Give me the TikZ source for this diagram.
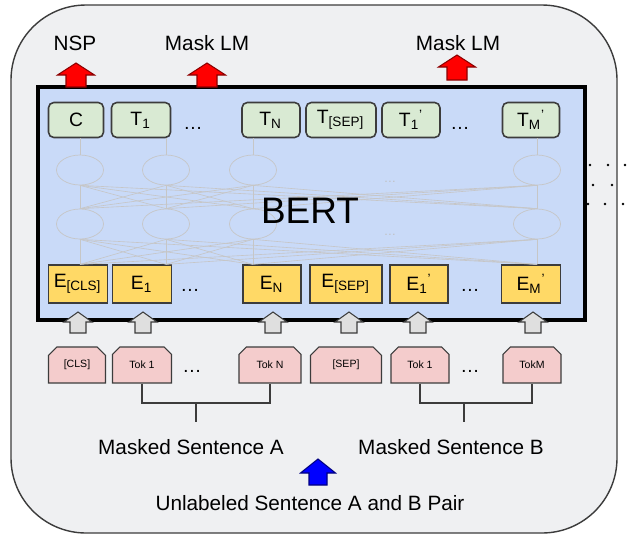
\documentclass[tikz,border=0pt]{standalone}
\usepackage{amsmath}
\usepackage{fontspec}
\setmainfont{Liberation Sans}
\usetikzlibrary{shapes, shapes.misc, positioning}
\tikzset{>=stealth}
\definecolor{outbg}{RGB}{239,240,242}
\definecolor{bertbg}{RGB}{201,218,248}
\definecolor{tgreen}{RGB}{217,234,211}
\definecolor{eyellow}{RGB}{255,217,102}
\definecolor{tpink}{RGB}{244,204,204}
\definecolor{dgray}{RGB}{60,60,60}
\newcommand{\lab}[3]{$\text{#1}_{\text{#2}}{}^{\text{#3}}$}
\tikzset{
	tbox/.style={draw=dgray, fill=tgreen, line width=0.9pt, rounded corners=3pt, minimum height=0.7cm, inner sep=0pt, font=\fontsize{11}{12}\selectfont},
	ebox/.style={draw=dgray, fill=eyellow, line width=0.7pt, minimum height=0.76cm, inner sep=0pt, font=\fontsize{11}{12}\selectfont},
	tokbox/.style={chamfered rectangle, chamfered rectangle corners={north west, north east}, chamfered rectangle xsep=3pt, chamfered rectangle ysep=2pt, draw=dgray, fill=tpink, line width=0.6pt, minimum height=0.72cm, inner sep=0pt, font=\fontsize{6}{7}\selectfont},
	neuron/.style={ellipse, draw=gray!45, line width=0.4pt, minimum width=0.94cm, minimum height=0.6cm, inner sep=0pt},
	faint/.style={draw=gray!45, line width=0.35pt},
	headtxt/.style={font=\fontsize{11.8}{14}\selectfont},
	pics/uparrow/.style n args={4}{code={
		\path [pic actions, line width=0.6pt] ({-#3/2},0) -- ({-#3/2},{#4-#1}) -- ({-#2/2},{#4-#1}) -- (0,-#1)
			-- ({#2/2},{#4-#1}) -- ({#3/2},{#4-#1}) -- ({#3/2},0) -- cycle;
	}},
}

\begin{document}
\begin{tikzpicture}[x=0.02cm, y=-0.02cm]
	\fill (0,0) rectangle (628,542) [white];
	\useasboundingbox (0,0) rectangle (628,542);
	\draw [fill=outbg, draw=dgray, line width=0.8pt, rounded corners=1.5cm] (11,5) rectangle (617,533);
	\foreach \x/\y in {590/165,608/165,625/165,593/185,612/185,588/204,605/204,623/204}
		\fill (\x,\y) circle[radius=0.8pt];
	\draw (38,87) rectangle (585,320) [fill=bertbg, line width=2pt];

	\node [tbox, minimum width=1.1cm] (tc) at (76,120) {C};
	\node [tbox, minimum width=1.18cm] (tt1) at (141,120) {\lab{T}{1}{}};
	\node [tbox, minimum width=1.16cm] (ttn) at (271,120) {\lab{T}{N}{}};
	\node [tbox, minimum width=1.4cm] (ttsep) at (341,120) {\lab{T}{[SEP]}{}};
	\node [tbox, minimum width=1.16cm] (tt1b) at (411,120) {\lab{T}{1}{'}};
	\node [tbox, minimum width=1.14cm] (ttmb) at (531,120) {\lab{T}{M}{'}};

	\node [ebox, minimum width=1.18cm] (ecls) at (78,284) {\lab{E}{[CLS]}{}};
	\node [ebox, minimum width=1.18cm] (ee1) at (142,284) {\lab{E}{1}{}};
	\node [ebox, minimum width=1.16cm] (een) at (272,284) {\lab{E}{N}{}};
	\node [ebox, minimum width=1.44cm] (esep) at (346,284) {\lab{E}{[SEP]}{}};
	\node [ebox, minimum width=1.16cm] (ee1b) at (419,284) {\lab{E}{1}{'}};
	\node [ebox, minimum width=1.18cm] (eemb) at (531,284) {\lab{E}{M}{'}};

	\node [tokbox, minimum width=1.14cm] (kcls) at (77,365) {[CLS]};
	\node [tokbox, minimum width=1.18cm] (ka1) at (142,365) {Tok 1};
	\node [tokbox, minimum width=1.24cm] (kan) at (270,365) {Tok N};
	\node [tokbox, minimum width=1.42cm] (ksep) at (346,365) {[SEP]};
	\node [tokbox, minimum width=1.16cm] (kb1) at (420,365) {Tok 1};
	\node [tokbox, minimum width=1.16cm] (kbm) at (532,365) {TokM};

	\foreach \x/\y in {193/128,460/128,190/290,470/290,192/371,470/371}
		\node [font=\fontsize{11}{12}\selectfont] at (\x,\y) {\dots};
	\node [text=gray!50, font=\scriptsize] at (390,182) {\dots};
	\node [text=gray!50, font=\scriptsize] at (390,235) {\dots};

	\foreach \i/\x in {1/80,2/166,3/253,4/537} {
		\node [neuron] (u\i) at (\x,170) {};
		\node [neuron] (l\i) at (\x,224) {};
		\draw [faint] (u\i.north) -- (u\i.north |- tc.south);
		\draw [faint] (l\i.south) -- (l\i.south |- ecls.north);
	}
	\foreach \i in {1,...,4}
		\foreach \j in {1,...,4} {
			\draw [faint] (l\i.north) -- (u\j.south);
			\draw [faint] (l\i.south |- ecls.north) -- (l\j.south);
		}
	\node [font=\fontsize{21}{24}\selectfont] (bert) at (310,211) {BERT};

	\foreach \x [count=\i] in {78,143,273,349,418,533}
		\pic (ga\i) [fill=gray!25, draw=dgray] at (\x,333) {uparrow={21}{28}{16}{10}};
	\pic (ra1) [fill=red, draw=red!55!black] at (76,87) {uparrow={24}{37}{20}{12}};
	\pic (ra2) [fill=red, draw=red!55!black] at (207,87) {uparrow={24}{37}{20}{12}};
	\pic (ra3) [fill=red, draw=red!55!black] at (457,80) {uparrow={25}{37}{20}{12}};
	\pic (ba) [fill=blue, draw=blue!50!black] at (318,485) {uparrow={26}{35}{18}{14}};

	\node [headtxt] (nsp) at (75,43) {NSP};
	\node [headtxt] (mlma) at (207,43) {Mask LM};
	\node [headtxt] (mlmb) at (458,43) {Mask LM};
	\node [headtxt] (senta) at (191,447) {Masked Sentence A};
	\node [headtxt] (sentb) at (451,447) {Masked Sentence B};
	\node [headtxt] (pair) at (310,503) {Unlabeled Sentence A and B Pair};

	\coordinate (bra) at (196,403);
	\coordinate (brb) at (464,403);
	\draw (ka1.south) |- (bra) -| (kan.south) [dgray, line width=0.7pt];
	\draw (bra) -- ++(0,19) [dgray, line width=0.7pt];
	\draw (kb1.south) |- (brb) -| (kbm.south) [dgray, line width=0.7pt];
	\draw (brb) -- ++(0,19) [dgray, line width=0.7pt];
\end{tikzpicture}
\end{document}
